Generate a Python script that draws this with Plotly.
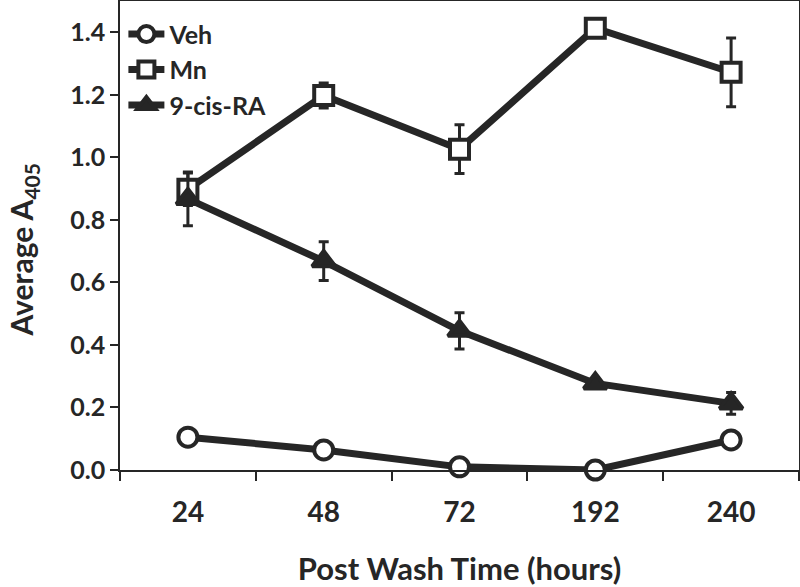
"""
Average A405 vs post wash time
"""
import plotly.graph_objects as go

hours = ['24', '48', '72', '192', '240']

veh = [0.105, 0.064, 0.010, 0.000, 0.096]
veh_err = [0.0, 0.0, 0.0, 0.0, 0.0]

mn = [0.898, 1.198, 1.026, 1.413, 1.272]
mn_err = [0.052, 0.040, 0.078, 0.0, 0.110]

ra = [0.867, 0.668, 0.445, 0.277, 0.213]
ra_err = [0.086, 0.062, 0.058, 0.012, 0.035]

INK = '#262626'
FONT = 'Lato'

fig = go.Figure()

# 误差线 + 折线
series = [
    ('Veh', veh, veh_err, 'circle', 'white', 19),
    ('Mn', mn, mn_err, 'square', 'white', 19),
    ('9-cis-RA', ra, ra_err, 'triangle-up', INK, 20),
]

for name, vals, err, sym, fillc, size in series:
    fig.add_trace(go.Scatter(
        x=hours,
        y=vals,
        name=name,
        mode='lines+markers',
        line=dict(color=INK, width=7),
        marker=dict(symbol=sym, size=size, color=fillc,
                    line=dict(color=INK, width=4)),
        error_y=dict(type='data', array=err, visible=True,
                     color=INK, thickness=3, width=5),
        cliponaxis=False,
    ))

fig.update_layout(
    width=800,
    height=587,
    margin=dict(l=120, r=1, t=1, b=117),
    paper_bgcolor='white',
    plot_bgcolor='white',
    font=dict(family=FONT, color=INK),
    showlegend=True,
    legend=dict(
        x=0.005, y=0.978, xanchor='left', yanchor='top',
        bgcolor='rgba(0,0,0,0)',
        font=dict(size=25, family=FONT, weight='bold', color=INK),
        itemwidth=36,
        tracegroupgap=0,
    ),
)

# y 轴标题（带下标）
fig.add_annotation(
    text='Average A<sub>405</sub>',
    xref='paper', yref='paper',
    x=-0.143, y=0.47,
    xanchor='center', yanchor='middle',
    textangle=-90,
    showarrow=False,
    font=dict(size=30, family=FONT, weight='bold', color=INK),
)

fig.update_xaxes(
    type='category',
    range=[-0.5, 4.5],
    automargin=False,
    tickson='boundaries',
    ticks='outside',
    ticklen=9,
    tickwidth=1.5,
    tickcolor=INK,
    ticklabelstandoff=17,
    showline=True,
    linecolor=INK,
    linewidth=1.5,
    mirror=True,
    showgrid=False,
    zeroline=False,
    tickfont=dict(size=28, family=FONT, weight='bold', color=INK),
    title=dict(text='Post Wash Time (hours)', standoff=47,
               font=dict(size=31, family=FONT, weight='bold', color=INK)),
)

fig.update_yaxes(
    range=[0, 1.5],
    automargin=False,
    tickvals=[0, 0.2, 0.4, 0.6, 0.8, 1.0, 1.2, 1.4],
    tickformat='.1f',
    ticks='outside',
    ticklen=8,
    tickwidth=1.5,
    tickcolor=INK,
    showline=True,
    linecolor=INK,
    linewidth=1.5,
    mirror=True,
    showgrid=False,
    zeroline=False,
    tickfont=dict(size=25, family=FONT, weight='bold', color=INK),
)

fig.write_html("out.html",
               config={'displayModeBar': False},
               post_script="document.body.style.margin='0';"
                           "document.body.style.overflow='hidden';")
